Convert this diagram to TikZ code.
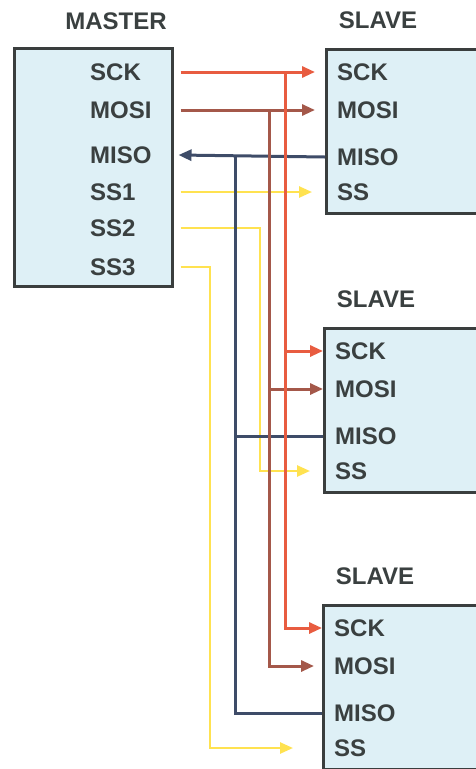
\documentclass[tikz,border=0pt]{standalone}
\usepackage{fontspec}
\setmainfont{Liberation Sans}
\usetikzlibrary{arrows.meta,positioning}
\definecolor{spired}{RGB}{232,92,64}
\definecolor{spibrown}{RGB}{164,88,74}
\definecolor{spinavy}{RGB}{62,76,104}
\definecolor{spiyellow}{RGB}{255,226,80}
\definecolor{chipfill}{RGB}{222,240,246}
\definecolor{chipline}{RGB}{58,62,62}
\definecolor{labelgray}{RGB}{58,64,64}

\tikzset{
  chip/.style={draw=chipline,line width=2.5pt,fill=chipfill,anchor=north west,inner sep=0pt},
  pin/.style={anchor=west,inner sep=0pt,text=labelgray,font=\bfseries\fontsize{24}{24}\selectfont},
  title/.style={inner sep=0pt,text=labelgray,font=\bfseries\fontsize{24}{24}\selectfont},
  wire/.style={line width=3pt},
  sig/.style={wire,-{Triangle[length=13pt,width=11pt]}},
}

\begin{document}
\begin{tikzpicture}[x=1pt,y=-1pt]
  \clip (0,0) rectangle (476,769);
  \fill[white] (0,0) rectangle (476,769);

  % Master
  \node[chip,minimum width=158pt,minimum height=238pt] (master) at (13,47) {};
  \node[title] (mtitle) at (116,21) {MASTER};
  \foreach \name/\txt/\y in {msck/SCK/72, mmosi/MOSI/110, mmiso/MISO/155,
                             mss1/SS1/192, mss2/SS2/228, mss3/SS3/267}
    \node[pin] (\name) at (90,\y) {\txt};

  % Slaves
  \foreach \i/\x/\y in {1/325/48, 2/323/327, 3/322/604}{
    \node[chip,minimum width=170pt,minimum height=164pt] (s\i) at (\x,\y) {};
    \node[title] (t\i) at (\x+53,\y-28) {SLAVE};
    \node[pin] (s\i sck) at (\x+12,\y+24) {SCK};
    \node[pin] (s\i mosi) at (\x+12,\y+62) {MOSI};
    \node[pin] (s\i miso) at (\x+12,\y+109) {MISO};
    \node[pin] (s\i ss) at (\x+12,\y+144) {SS};
  }

  % Bus columns
  \coordinate (busclk) at (285,0);
  \coordinate (busmosi) at (269,0);
  \coordinate (busmiso) at (235,0);
  \coordinate (busss2) at (260,0);
  \coordinate (busss3) at (210,0);

  % Slave select lines
  \begin{scope}[spiyellow]
    \draw[sig,line width=2.5pt] ([xshift=7pt]master.east |- mss1) -- ([xshift=-13pt]s1.west |- s1ss);
    \draw[sig,line width=2.5pt] ([xshift=7pt]master.east |- mss2) -- (busss2 |- mss2)
      -- (busss2 |- s2ss) -- ([xshift=-13pt]s2.west |- s2ss);
    \draw[sig,line width=2.5pt] ([xshift=7pt]master.east |- mss3) -- (busss3 |- mss3)
      -- (busss3 |- s3ss) -- ([xshift=-29pt]s3.west |- s3ss);
  \end{scope}

  % MISO
  \draw[sig,spinavy] (s1.west |- s1miso) -- ([xshift=5pt]master.east |- mmiso);
  \draw[wire,spinavy] (busmiso |- mmiso) -- (busmiso |- s3miso) -- (s3.west |- s3miso);
  \draw[wire,spinavy] (busmiso |- s2miso) -- (s2.west |- s2miso);

  % MOSI
  \draw[sig,spibrown] ([xshift=7pt]master.east |- mmosi) -- ([xshift=-10pt]s1.west |- s1mosi);
  \draw[sig,spibrown] (busmosi |- mmosi) -- (busmosi |- s3mosi) -- ([xshift=-8pt]s3.west |- s3mosi);
  \draw[sig,spibrown] (busmosi |- s2mosi) -- (s2.west |- s2mosi);

  % SCK
  \draw[sig,spired] ([xshift=7pt]master.east |- msck) -- ([xshift=-10pt]s1.west |- s1sck);
  \draw[sig,spired] (busclk |- msck) -- (busclk |- s3sck) -- (s3.west |- s3sck);
  \draw[sig,spired] (busclk |- s2sck) -- (s2.west |- s2sck);
\end{tikzpicture}
\end{document}
